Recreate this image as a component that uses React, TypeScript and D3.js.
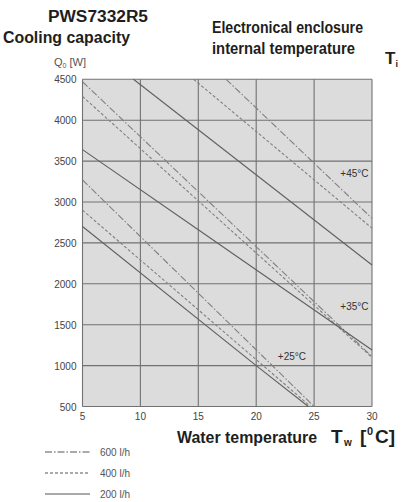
import * as d3 from 'd3';

const W = 408;
const H = 502;

// axis ticks
const xTicks = [5, 10, 15, 20, 25, 30];
const yTicks = [500, 1000, 1500, 2000, 2500, 3000, 3500, 4000, 4500];

// cooling capacity lines [Tw, Q0]
const line45_600 = [[17.4, 4500], [30, 2800]];
const line45_400 = [[14.6, 4500], [30, 2680]];
const line45_200 = [[9.4, 4500], [30, 2230]];
const line35_600 = [[5, 4470], [30, 1110]];
const line35_400 = [[5, 4290], [30, 1100]];
const line35_200 = [[5, 3640], [15, 2660], [30, 1190]];
const line25_600 = [[5, 3270], [25, 500]];
const line25_400 = [[5, 2900], [24.7, 500]];
const line25_200 = [[5, 2700], [20, 1000], [24.5, 500]];

const tempLabels = [
  { text: '+45°C', x: 29.7, y: 3300 },
  { text: '+35°C', x: 29.7, y: 1680 },
  { text: '+25°C', x: 24.3, y: 1070 },
];

const flows = ['600 l/h', '400 l/h', '200 l/h'];
const dashes: Record<string, string> = {
  '600 l/h': '7,2,1.5,2',
  '400 l/h': '3,2',
  '200 l/h': '',
};

const curves = [
  { flow: '600 l/h', pts: line45_600 },
  { flow: '400 l/h', pts: line45_400 },
  { flow: '200 l/h', pts: line45_200 },
  { flow: '600 l/h', pts: line35_600 },
  { flow: '400 l/h', pts: line35_400 },
  { flow: '200 l/h', pts: line35_200 },
  { flow: '600 l/h', pts: line25_600 },
  { flow: '400 l/h', pts: line25_400 },
  { flow: '200 l/h', pts: line25_200 },
];

const x = d3.scaleLinear().domain([5, 30]).range([82.5, 372]);
const y = d3.scaleLinear().domain([500, 4500]).range([406.5, 79.3]);

const line = d3
  .line<number[]>()
  .x((d) => x(d[0]))
  .y((d) => y(d[1]));

const bold = { fontFamily: 'Liberation Sans, Arial, sans-serif', fontWeight: 700, fill: '#1e1e1e' };
const small = { fontFamily: 'Liberation Sans, Arial, sans-serif', fontSize: 10, fill: '#444' };

export default function App() {
  const [x0, x1] = x.range();
  const [y0, y1] = y.range();
  return (
    <svg
      width={W}
      height={H}
      style={{ position: 'absolute', left: 0, top: 0, background: '#fff' }}
    >
      {/* titles */}
      <text x={48} y={22} fontSize={16} textLength={100} lengthAdjust="spacingAndGlyphs" {...bold}>
        PWS7332R5
      </text>
      <text x={3} y={43} fontSize={16} textLength={127} lengthAdjust="spacingAndGlyphs" {...bold}>
        Cooling capacity
      </text>
      <text x={212} y={33} fontSize={16} textLength={151} lengthAdjust="spacingAndGlyphs" {...bold}>
        Electronical enclosure
      </text>
      <text x={212} y={54} fontSize={16} textLength={143} lengthAdjust="spacingAndGlyphs" {...bold}>
        internal temperature
      </text>
      <text x={385} y={64} fontSize={17} {...bold}>
        T<tspan fontSize={9} dy={3}>i</tspan>
      </text>
      <text x={54} y={66} {...small} fontSize={11} fill="#555">
        Q<tspan fontSize={7} dy={2}>0</tspan>
        <tspan dy={-2}> [W]</tspan>
      </text>

      {/* plot area */}
      <rect x={x0} y={y1} width={x1 - x0} height={y0 - y1} fill="#dcdcdc" />
      <g stroke="#727272" strokeWidth={1.1}>
        {xTicks.map((t) => (
          <line key={'vx' + t} x1={x(t)} x2={x(t)} y1={y1} y2={y0} />
        ))}
        {yTicks.map((t) => (
          <line key={'hy' + t} x1={x0} x2={x1} y1={y(t)} y2={y(t)} />
        ))}
      </g>

      <g fill="none" strokeWidth={1.1}>
        {curves.map((c, i) => (
          <path
            key={i}
            d={line(c.pts) || ''}
            strokeDasharray={dashes[c.flow]}
            stroke={c.flow === '200 l/h' ? '#606060' : '#808080'}
          />
        ))}
      </g>

      {tempLabels.map((l) => (
        <text key={l.text} x={x(l.x)} y={y(l.y)} textAnchor="end" {...small} fontSize={10} fill="#333">
          {l.text}
        </text>
      ))}

      {/* axes labels */}
      {yTicks.map((t) => (
        <text key={'yl' + t} x={x0 - 6} y={y(t) + 4} textAnchor="end" {...small}>
          {t}
        </text>
      ))}
      {xTicks.map((t) => (
        <text key={'xl' + t} x={x(t)} y={420} textAnchor="middle" {...small}>
          {t}
        </text>
      ))}
      <text x={177} y={443} fontSize={17} textLength={140} lengthAdjust="spacingAndGlyphs" {...bold}>
        Water temperature
      </text>
      <text x={331} y={443} fontSize={19} {...bold}>
        T<tspan x={344} fontSize={10} dy={3}>w</tspan>
        <tspan x={360} dy={-3}>[</tspan>
        <tspan x={367} fontSize={11} dy={-8}>0</tspan>
        <tspan x={375} dy={8}>C]</tspan>
      </text>

      {/* legend */}
      {flows.map((f, i) => {
        const ly = 452 + i * 21;
        return (
          <g key={f}>
            <line x1={45} x2={90} y1={ly} y2={ly} stroke="#555" strokeWidth={1} strokeDasharray={dashes[f]} />
            <text x={100} y={ly + 3.5} {...small} fontSize={10} fill="#555">
              {f}
            </text>
          </g>
        );
      })}
    </svg>
  );
}
